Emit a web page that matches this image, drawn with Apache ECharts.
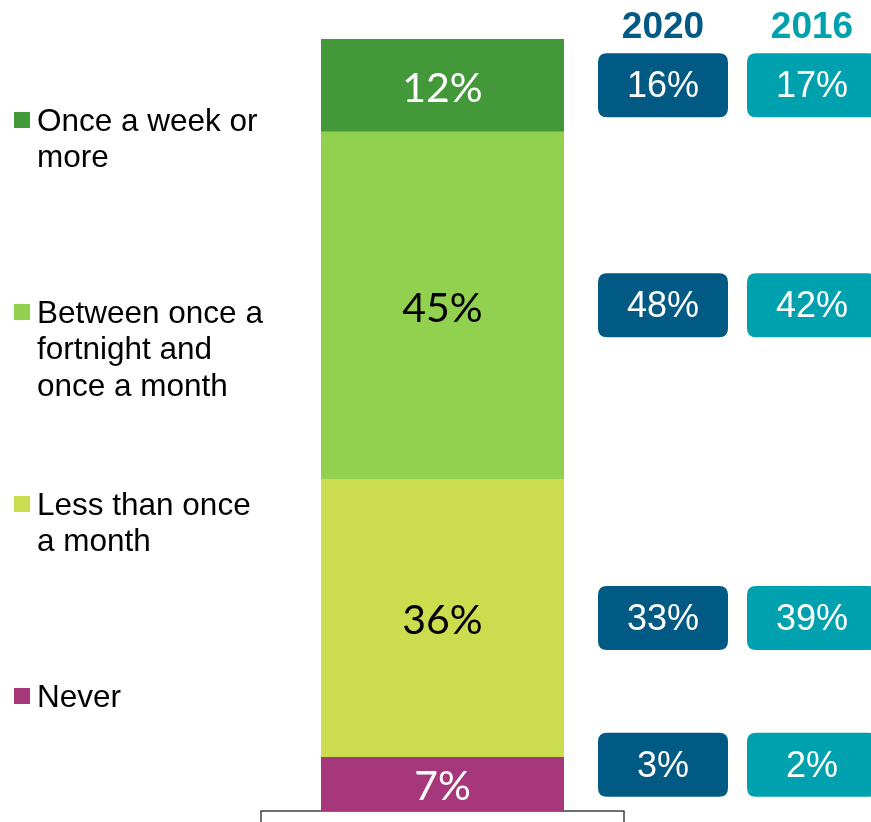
<!DOCTYPE html>
<html>
<head>
<meta charset="utf-8">
<script src="https://cdn.jsdelivr.net/npm/echarts@6/dist/echarts.min.js"></script>
<style>
  html, body { margin: 0; padding: 0; background: #fff; }
  #myChart { width: 871px; height: 822px; }
</style>
</head>
<body>
<div id="myChart"></div>
<script>
// categories, top of the bar first
const categories = ['Once a week or more', 'Between once a fortnight and once a month', 'Less than once a month', 'Never'];
const legendLabels = ['Once a week or\nmore', 'Between once a\nfortnight and\nonce a month', 'Less than once\na month', 'Never'];
const shares = [12, 45, 36, 7];      // the stacked bar
const years = ['2020', '2016'];
const values2020 = [16, 48, 33, 3];
const values2016 = [17, 42, 39, 2];

const segColors = ['#43983a', '#92d050', '#cbdc4e', '#a5377a'];
const segLabelColors = ['#fff', '#000', '#000', '#fff'];
const yearColors = ['#005a84', '#00a1ae'];

let myChart = echarts.init(document.getElementById('myChart'));

// stack from the bottom up: Never first
let order = [3, 2, 1, 0];
let series = [];
let mids = [];
let base = 0;
order.forEach(function (i) {
    mids[i] = base + shares[i] / 2;
    base += shares[i];
    series.push({
        name: categories[i],
        type: 'bar',
        stack: 'all',
        barWidth: 243,
        xAxisIndex: 0,
        yAxisIndex: 0,
        data: [shares[i]],
        itemStyle: { color: segColors[i] },
        label: {
            show: true,
            position: 'inside',
            offset: [0, 3],
            formatter: '{c}%',
            color: segLabelColors[i],
            fontFamily: 'Lato',
            fontSize: 41
        }
    });
});

// year boxes sit beside the segment middles, kept inside the plot
function boxPos(i) {
    return Math.min(Math.max(mids[i], 6), 94.5);
}
[values2020, values2016].forEach(function (vals, k) {
    series.push({
        name: years[k],
        type: 'scatter',
        xAxisIndex: 1,
        yAxisIndex: 1,
        clip: false,
        symbol: 'path://M9,0H121Q130,0 130,9V55Q130,64 121,64H9Q0,64 0,55V9Q0,0 9,0Z',
        symbolSize: [130, 64],
        itemStyle: { color: yearColors[k], opacity: 1 },
        label: {
            show: true,
            position: 'inside',
            offset: [0, 2],
            formatter: function (p) { return p.value[2] + '%'; },
            color: '#fff',
            fontFamily: 'Liberation Sans',
            fontSize: 36
        },
        data: vals.map(function (v, i) { return [k, boxPos(i), v]; })
    });
});

// legend drawn as graphic so the square sits on the first line
let graphics = [];
legendLabels.forEach(function (t, i) {
    let cy = 120 + i * 192;
    graphics.push({
        type: 'rect',
        shape: { x: 14, y: cy - 8, width: 16, height: 16 },
        style: { fill: segColors[i] }
    });
    graphics.push({
        type: 'text',
        x: 37,
        y: cy - 16,
        style: {
            text: t,
            fill: '#000',
            font: '31.5px "Liberation Sans", Arial',
            lineHeight: 36.5,
            verticalAlign: 'top'
        }
    });
});

myChart.setOption({
    animation: false,
    grid: [
        { left: 261, right: 247, top: 39, bottom: 11 },
        { left: 663, right: 59, top: 39, bottom: 11 }
    ],
    xAxis: [
        {
            type: 'category',
            gridIndex: 0,
            data: [''],
            axisLine: { lineStyle: { color: '#404040', width: 1.5 } },
            axisTick: { show: true, length: 14, lineStyle: { color: '#404040', width: 1.5 } },
            axisLabel: { show: false }
        },
        {
            type: 'category',
            gridIndex: 1,
            position: 'top',
            boundaryGap: false,
            data: years,
            axisLine: { show: false },
            axisTick: { show: false },
            axisLabel: {
                margin: -7,
                fontFamily: 'Liberation Sans',
                fontWeight: 'bold',
                fontSize: 37,
                color: function (v, idx) { return yearColors[idx]; }
            }
        }
    ],
    yAxis: [
        { type: 'value', gridIndex: 0, min: 0, max: 100, show: false },
        { type: 'value', gridIndex: 1, min: 0, max: 100, show: false }
    ],
    graphic: graphics,
    series: series
});
</script>
</body>
</html>
